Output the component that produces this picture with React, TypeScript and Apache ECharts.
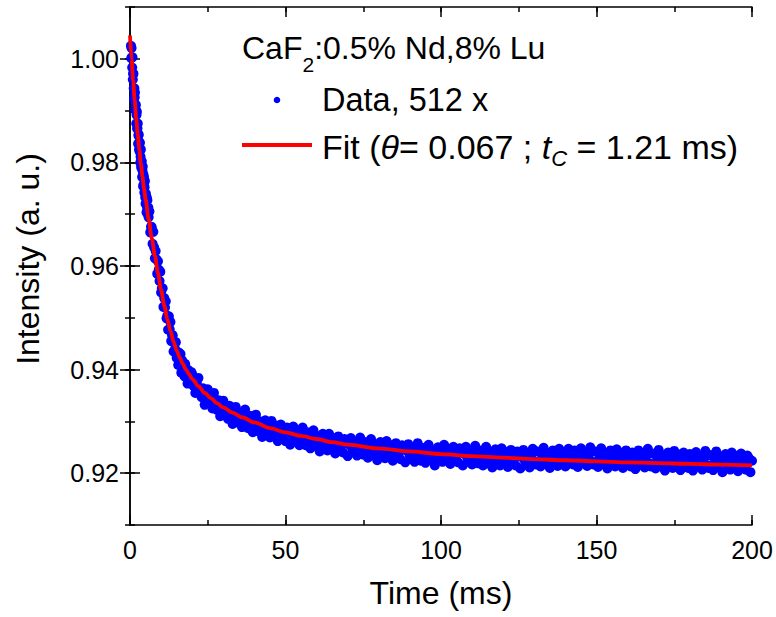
import React, { useEffect, useRef } from 'react';
import * as echarts from 'echarts';

const FONT = '"Liberation Sans", Arial, Helvetica, sans-serif';

// Axes
const xMin = 0;
const xMax = 200;
const xMinorStep = 25;
const xMajorStep = 50;
const yMin = 0.91;
const yMax = 1.01;
const yMinorStep = 0.01;
const yMajorTicks = [0.92, 0.94, 0.96, 0.98, 1.0];

const dataEarlyStart = 0.3;
const dataEarlyStep = 0.1;
const dataEarly = [
  825, 801, 821, 803, 783, 803, 760,
  771, 771, 743, 722, 743, 726, 735, 701, 702, 711,
  675, 692, 698, 665, 666, 675, 636, 652, 654, 625,
  639, 621, 638, 600, 611, 625, 590, 593, 602, 572,
  585, 592, 554, 577, 558, 572, 542, 552, 564, 532,
  520, 540, 534, 504, 532, 513, 527, 500, 503, 513,
];
const dataMidStart = 6;
const dataMidStep = 0.25;
const dataMid = [
  494, 505, 465, 476, 475, 443, 466, 436, 415, 429,
  413, 385, 409, 393, 371, 389, 349, 357, 357, 321,
  338, 320, 332, 299, 304, 277, 303, 278, 292, 255,
  267, 266, 235, 252, 240, 253, 223, 232, 209, 233,
  214, 230, 194, 218, 199, 206, 187, 211, 193, 200,
  173, 199, 175, 189, 176, 195,
];
const dataLateStart = 20;
const dataLateStep = 0.5;
const dataLate = [
  191, 168, 155, 174, 184, 159, 147, 164, 132, 152,
  162, 139, 149, 125, 155, 134, 122, 141, 110, 130,
  140, 113, 121, 105, 130, 124, 95, 116, 128, 105,
  97, 117, 89, 110, 123, 94, 87, 111, 90, 79,
  100, 113, 90, 80, 100, 70, 90, 102, 80, 92,
  69, 101, 81, 72, 92, 62, 83, 94, 69, 77,
  62, 88, 83, 55, 76, 90, 67, 60, 80, 54,
  75, 88, 61, 54, 79, 58, 48, 70, 83, 61,
  51, 71, 42, 63, 76, 54, 66, 44, 76, 57,
  47, 68, 38, 60, 71, 46, 54, 40, 66, 61,
  33, 55, 68, 46, 40, 60, 34, 56, 69, 42,
  36, 60, 40, 30, 52, 66, 43, 34, 55, 25,
  47, 60, 38, 51, 29, 62, 42, 33, 54, 24,
  46, 58, 32, 41, 27, 54, 48, 21, 43, 56,
  34, 28, 49, 22, 44, 58, 31, 24, 49, 29,
  20, 41, 55, 33, 24, 44, 15, 37, 50, 28,
  44, 22, 55, 35, 26, 47, 18, 40, 51, 26,
  35, 21, 48, 42, 15, 37, 51, 29, 22, 43,
  17, 39, 53, 26, 19, 44, 24, 15, 37, 51,
  29, 19, 40, 11, 33, 46, 25, 37, 15, 48,
  29, 20, 41, 12, 33, 45, 20, 29, 15, 42,
  37, 9, 31, 45, 23, 17, 38, 11, 33, 47,
  23, 17, 42, 22, 13, 35, 49, 27, 18, 39,
  10, 31, 44, 23, 36, 14, 47, 28, 19, 40,
  13, 35, 47, 22, 31, 17, 44, 39, 12, 34,
  48, 25, 19, 40, 14, 36, 50, 23, 17, 42,
  21, 12, 34, 48, 26, 17, 38, 9, 31, 44,
  23, 35, 13, 46, 27, 18, 39, 10, 32, 44,
  18, 27, 13, 40, 35, 8, 30, 44, 22, 16,
  37, 11, 33, 47, 19, 13, 38, 18, 9, 31,
  45, 22, 13, 34, 5, 27, 40, 19, 32, 10,
  43, 24, 15, 36, 6, 28, 40, 15, 24, 10,
  37, 32, 5, 27, 41, 19, 13, 33, 7, 29,
  43, 16, 10, 35, 15, 6, 28, 42, 20, 11,
  32, 2, 24, 37, 16, 29, 7, 40, 21, 12,
  33, 4, 26, 38, 12, 21, 7, 34, 29, 2, 24,
];

// Fit curve
const fitTime = [
  0, 0.5, 1, 1.5, 2, 2.5, 3, 3.5, 4, 4.5, 5, 6, 7, 8, 9, 10, 11, 12, 13, 14, 15, 16, 17, 18, 19, 20,
  22, 24, 26, 28, 30, 33, 36, 40, 45, 50, 55, 60, 65, 70, 80, 90, 100, 110, 120, 130, 140, 150, 160,
  170, 180, 190, 200,
];
const fitIntensity = [
  1.0045, 1.0, 0.9958, 0.992, 0.9885, 0.9853, 0.9824, 0.9797, 0.9773, 0.975, 0.9729, 0.969, 0.9654,
  0.962, 0.9586, 0.9554, 0.9524, 0.9498, 0.9475, 0.9454, 0.9437, 0.9423, 0.9411, 0.94, 0.9391, 0.9382,
  0.9368, 0.9355, 0.9345, 0.9335, 0.9327, 0.9317, 0.9308, 0.9298, 0.9287, 0.9279, 0.9272, 0.9266,
  0.926, 0.9255, 0.9248, 0.9242, 0.9237, 0.9233, 0.923, 0.9227, 0.9225, 0.9223, 0.9221, 0.92195,
  0.9218, 0.92165, 0.9215,
];

const legendTitle = ['CaF', '2', ':0.5% Nd,8% Lu'];
const legendData = 'Data, 512 x';
const legendFit = ['Fit (', '\u03b8', '= 0.067 ; ', 't', 'C', ' = 1.21 ms)'];

function decode(arr: number[], start: number, step: number): number[][] {
  return arr.map((n, i) => [Number((start + i * step).toFixed(3)), 0.92 + n / 10000]);
}

export default function App() {
  const ref = useRef<HTMLDivElement>(null);
  useEffect(() => {
    if (!ref.current) return;
    const chart = echarts.init(ref.current, undefined, { renderer: 'svg' });
    const black = '#000000';
    const lineStyle = { color: black, width: 1.5 };
    const scatterData = [
      ...decode(dataEarly, dataEarlyStart, dataEarlyStep),
      ...decode(dataMid, dataMidStart, dataMidStep),
      ...decode(dataLate, dataLateStart, dataLateStep),
    ];
    const fitData = fitTime.map((t, i) => [t, fitIntensity[i]]);
    const baseX = { type: 'value', min: xMin, max: xMax, splitLine: { show: false } };
    const baseY = { type: 'value', min: yMin, max: yMax, splitLine: { show: false } };
    chart.setOption({
      animation: false,
      backgroundColor: '#ffffff',
      grid: { left: 130, right: 24, top: 7, bottom: 92, containLabel: false, outerBoundsMode: 'none' },
      xAxis: [
        {
          ...baseX,
          position: 'bottom',
          interval: xMinorStep,
          axisLine: { show: true, lineStyle },
          axisTick: { show: true, inside: true, length: 5, lineStyle },
          axisLabel: {
            show: true,
            formatter: (v: number) => (v % xMajorStep === 0 ? String(v) : ''),
            fontSize: 25,
            color: black,
            fontFamily: FONT,
            margin: 12,
          },
          name: 'Time (ms)',
          nameLocation: 'middle',
          nameGap: 52,
          nameTextStyle: { fontSize: 32, color: black, fontFamily: FONT },
        },
        {
          ...baseX,
          position: 'bottom',
          interval: xMajorStep,
          axisLine: { show: false },
          axisTick: { show: true, inside: true, length: 10, lineStyle },
          axisLabel: { show: false },
        },
        {
          ...baseX,
          position: 'top',
          interval: xMinorStep,
          axisLine: { show: true, lineStyle },
          axisTick: { show: true, inside: true, length: 5, lineStyle },
          axisLabel: { show: false },
        },
        {
          ...baseX,
          position: 'top',
          interval: xMajorStep,
          axisLine: { show: false },
          axisTick: { show: true, inside: true, length: 10, lineStyle },
          axisLabel: { show: false },
        },
      ],
      yAxis: [
        {
          ...baseY,
          position: 'left',
          interval: yMinorStep,
          axisLine: { show: true, lineStyle },
          axisTick: { show: true, inside: true, length: 5, lineStyle },
          axisLabel: {
            show: true,
            formatter: (v: number) => {
              const k = Math.round(v * 100);
              return k % 2 === 0 ? (k / 100).toFixed(2) : '';
            },
            fontSize: 25,
            color: black,
            fontFamily: FONT,
            margin: 11,
          },
          name: 'Intensity (a. u.)',
          nameLocation: 'middle',
          nameGap: 86,
          nameTextStyle: { fontSize: 32, color: black, fontFamily: FONT, padding: [0, 0, 0, 14] },
        },
        {
          ...baseY,
          position: 'left',
          axisLine: { show: false },
          axisTick: { show: true, inside: true, length: 10, lineStyle, customValues: yMajorTicks },
          axisLabel: { show: false, customValues: yMajorTicks },
        },
        {
          ...baseY,
          position: 'right',
          interval: yMinorStep,
          axisLine: { show: true, lineStyle },
          axisTick: { show: true, inside: true, length: 5, lineStyle },
          axisLabel: { show: false },
        },
        {
          ...baseY,
          position: 'right',
          axisLine: { show: false },
          axisTick: { show: true, inside: true, length: 10, lineStyle, customValues: yMajorTicks },
          axisLabel: { show: false, customValues: yMajorTicks },
        },
      ],
      series: [
        {
          type: 'scatter',
          name: legendData,
          xAxisIndex: 0,
          yAxisIndex: 0,
          data: scatterData,
          symbol: 'circle',
          symbolSize: 10,
          large: false,
          itemStyle: { color: '#0000ff', opacity: 1, borderWidth: 0 },
          silent: true,
          z: 2,
        },
        {
          type: 'line',
          name: 'Fit',
          xAxisIndex: 0,
          yAxisIndex: 0,
          data: fitData,
          showSymbol: false,
          symbol: 'none',
          smooth: 0.3,
          smoothMonotone: 'x',
          lineStyle: { color: '#ff0000', width: 3.8 },
          silent: true,
          z: 3,
        },
      ],
      graphic: [
        {
          type: 'text',
          x: 242,
          y: 48,
          style: {
            text: `{a|${legendTitle[0]}}{s|${legendTitle[1]}}{a|${legendTitle[2]}}`,
            align: 'left',
            verticalAlign: 'middle',
            fill: black,
            rich: {
              a: { fontSize: 32, fontFamily: FONT, lineHeight: 54, verticalAlign: 'middle', fill: black },
              s: { fontSize: 21, fontFamily: FONT, lineHeight: 21, verticalAlign: 'bottom', fill: black },
            },
          },
        },
        {
          type: 'circle',
          shape: { cx: 277, cy: 100, r: 3.3 },
          style: { fill: '#0000ff' },
        },
        {
          type: 'text',
          x: 322,
          y: 100,
          style: {
            text: legendData,
            align: 'left',
            verticalAlign: 'middle',
            fill: black,
            fontSize: 32.5,
            fontFamily: FONT,
          },
        },
        {
          type: 'line',
          shape: { x1: 242, y1: 145, x2: 312, y2: 145 },
          style: { stroke: '#ff0000', lineWidth: 3.8 },
        },
        {
          type: 'text',
          x: 322,
          y: 147,
          style: {
            text: `{a|${legendFit[0]}}{i|${legendFit[1]}}{a|${legendFit[2]}}{i|${legendFit[3]}}{si|${legendFit[4]}}{a|${legendFit[5]}}`,
            align: 'left',
            verticalAlign: 'middle',
            fill: black,
            rich: {
              a: { fontSize: 34, fontFamily: FONT, lineHeight: 45, verticalAlign: 'middle', fill: black },
              i: { fontSize: 34, fontFamily: FONT, fontStyle: 'italic', lineHeight: 45, verticalAlign: 'middle', fill: black },
              si: { fontSize: 22, fontFamily: FONT, fontStyle: 'italic', lineHeight: 22, verticalAlign: 'bottom', fill: black },
            },
          },
        },
      ],
    });
    return () => chart.dispose();
  }, []);
  return (
    <div
      ref={ref}
      style={{ position: 'fixed', left: 0, top: 0, width: 776, height: 617, background: '#fff' }}
    />
  );
}
